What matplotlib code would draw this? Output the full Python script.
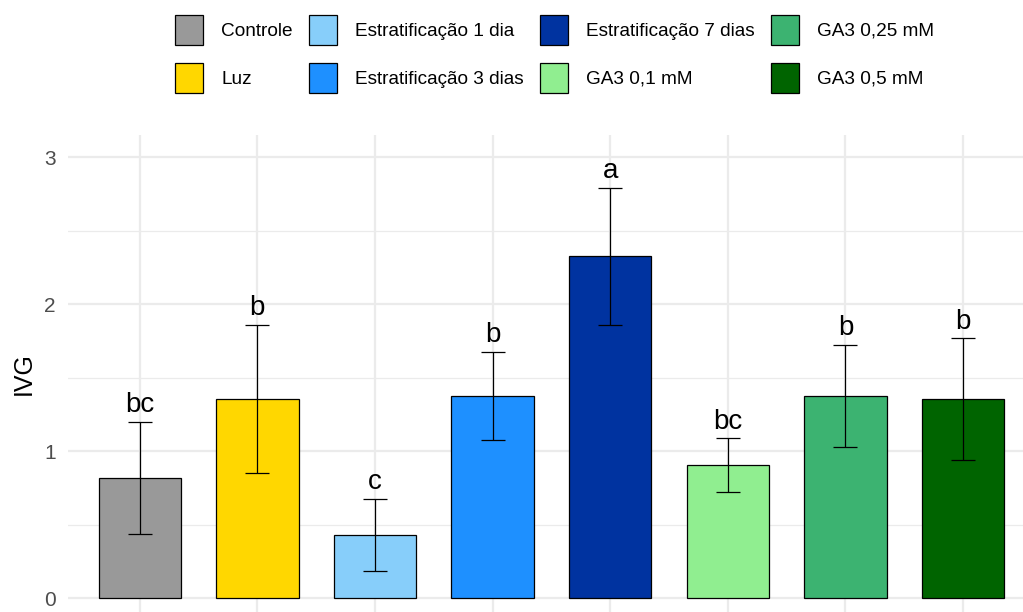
import matplotlib
matplotlib.use("Agg")
import matplotlib.pyplot as plt
from matplotlib.patches import Patch

plt.rcParams["font.family"] = ["Liberation Sans", "DejaVu Sans"]

treatments = [
    "Controle",
    "Luz",
    "Estratificação 1 dia",
    "Estratificação 3 dias",
    "Estratificação 7 dias",
    "GA3 0,1 mM",
    "GA3 0,25 mM",
    "GA3 0,5 mM",
]
ivg_mean = [0.82, 1.355, 0.43, 1.375, 2.325, 0.905, 1.375, 1.355]
ivg_err = [0.38, 0.505, 0.245, 0.30, 0.467, 0.183, 0.346, 0.413]
letters = ["bc", "b", "c", "b", "a", "bc", "b", "b"]
bar_colors = [
    "#999999", "#FFD700", "#87CEFA", "#1E90FF",
    "#0033A0", "#90EE90", "#3CB371", "#006400",
]

fig = plt.figure(figsize=(10.23, 6.12), dpi=100)
ax = fig.add_axes([68 / 1023, 0.0, 1 - 68 / 1023, (612 - 135) / 612])

x = list(range(len(treatments)))
ax.bar(x, ivg_mean, width=0.7, color=bar_colors, edgecolor="black",
       linewidth=0.9, zorder=3)
ax.errorbar(x, ivg_mean, yerr=ivg_err, fmt="none", ecolor="black",
            elinewidth=0.9, capsize=8.5, capthick=0.9, zorder=4)

for xi, m, e, lab in zip(x, ivg_mean, ivg_err, letters):
    ax.annotate(lab, (xi, m + e), xytext=(0, 7), textcoords="offset points",
                ha="center", va="baseline", fontsize=20, color="black",
                zorder=5)

ax.set_xlim(-0.61, 7.51)
ax.set_ylim(-0.093, 3.15)
ax.set_yticks([0, 1, 2, 3])
ax.set_yticks([0.5, 1.5, 2.5], minor=True)
ax.set_xticks(x)
ax.set_xticklabels([])
ax.tick_params(axis="both", which="both", length=0)
ax.tick_params(axis="y", labelsize=15, labelcolor="#4D4D4D", pad=9)
ax.grid(which="major", color="#EBEBEB", linewidth=1.6, zorder=0)
ax.grid(which="minor", axis="y", color="#EBEBEB", linewidth=0.9, zorder=0)
ax.set_axisbelow(True)
for spine in ax.spines.values():
    spine.set_visible(False)
ax.set_ylabel("IVG", fontsize=18, labelpad=6)

handles = [Patch(facecolor=c, edgecolor="black", linewidth=0.9) for c in bar_colors]
fig.legend(
    handles,
    treatments,
    ncol=4,
    loc="upper center",
    bbox_to_anchor=(0.542, 1.004),
    frameon=False,
    fontsize=13.7,
    handlelength=1.47,
    handleheight=2.05,
    handletextpad=0.95,
    columnspacing=0.85,
    labelspacing=0.95,
)

fig.savefig("out.png", dpi=100)
